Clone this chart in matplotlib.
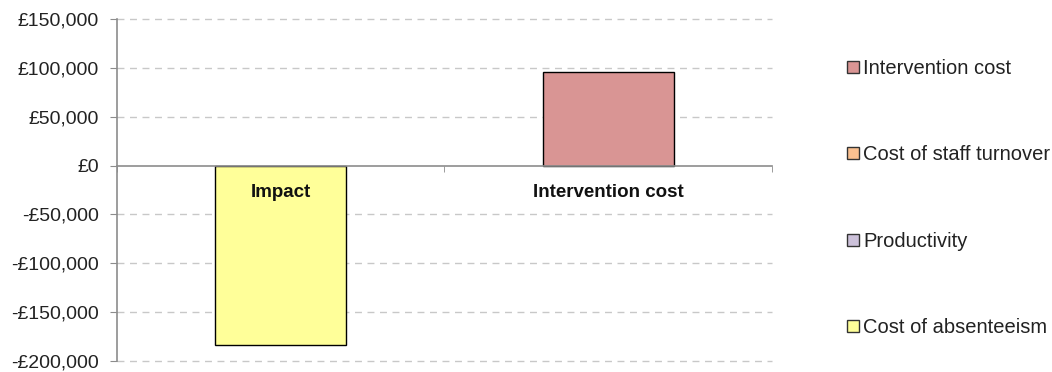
import matplotlib
matplotlib.use("Agg")
import matplotlib.pyplot as plt
import numpy as np
from matplotlib.patches import Patch
from matplotlib.ticker import FuncFormatter, FixedLocator

plt.rcParams['font.family'] = ['Liberation Sans', 'DejaVu Sans']

categories = ['Impact', 'Intervention cost']
series_names = ['Cost of absenteeism', 'Productivity', 'Cost of staff turnover', 'Intervention cost']
absenteeism = [-184000, 0]
productivity = [0, 0]
staff_turnover = [0, 0]
intervention = [0, 96000]
series_values = [absenteeism, productivity, staff_turnover, intervention]
colors = ['#FFFF99', '#CCC1DA', '#FAC090', '#D99594']
y_ticks = [-200000, -150000, -100000, -50000, 0, 50000, 100000, 150000]

fig = plt.figure(figsize=(10.52, 3.72), dpi=100)
ax = fig.add_axes([0.1112, 0.0296, 0.6226, 0.9193])

x = np.arange(len(categories))
pos_bottom = np.zeros(len(categories))
neg_bottom = np.zeros(len(categories))
for vals, col, name in zip(series_values, colors, series_names):
    v = np.array(vals, dtype=float)
    bottom = np.where(v >= 0, pos_bottom, neg_bottom)
    mask = v != 0
    ax.bar(x[mask], v[mask], bottom=bottom[mask], width=0.4, color=col,
           edgecolor='black', linewidth=1.0, zorder=2)
    pos_bottom += np.where(v > 0, v, 0)
    neg_bottom += np.where(v < 0, v, 0)

ax.set_xlim(-0.5, 1.5)
ax.set_ylim(-200000, 150000)
ax.set_yticks(y_ticks)

def fmt(v, p):
    v = int(round(v))
    if v < 0:
        return '-£{:,}'.format(-v)
    return '£{:,}'.format(v)
ax.yaxis.set_major_formatter(FuncFormatter(fmt))

grid_y = [t for t in y_ticks if t != 0]
ax.hlines(grid_y, -0.5, 1.5, linestyles=[(0, (5, 4))], colors='#C8C8C8',
          linewidth=1.0, zorder=0.5, clip_on=False)

for s in ['top', 'right']:
    ax.spines[s].set_visible(False)
ax.spines['left'].set_color('#8C8C8C')
ax.spines['bottom'].set_color('#8C8C8C')
ax.spines['bottom'].set_position(('data', 0))
ax.spines['left'].set_linewidth(1.2)
ax.spines['bottom'].set_linewidth(1.2)

ax.tick_params(axis='y', direction='out', length=5, color='#8C8C8C',
               labelsize=14, labelcolor='#222222', pad=8)
ax.set_xticks(x)
ax.set_xticklabels(categories, fontweight='bold', fontsize=13.5, color='#111111')
ax.tick_params(axis='x', which='major', length=0, pad=13)
ax.xaxis.set_minor_locator(FixedLocator([-0.5, 0.5, 1.5]))
ax.tick_params(axis='x', which='minor', length=4, direction='out', color='#8C8C8C')
ax.xaxis.set_zorder(5)

handles = [Patch(facecolor=c, edgecolor='#333333', linewidth=1.0) for c in colors]
leg = fig.legend(handles[::-1], series_names[::-1], loc='upper left',
                 bbox_to_anchor=(0.805, 0.842), frameon=False, fontsize=14.5,
                 handlelength=0.6, handleheight=0.55, handletextpad=0.2,
                 labelspacing=3.35, borderpad=0, borderaxespad=0)
for t in leg.get_texts():
    t.set_color('#222222')

fig.savefig('out.png', dpi=100)
